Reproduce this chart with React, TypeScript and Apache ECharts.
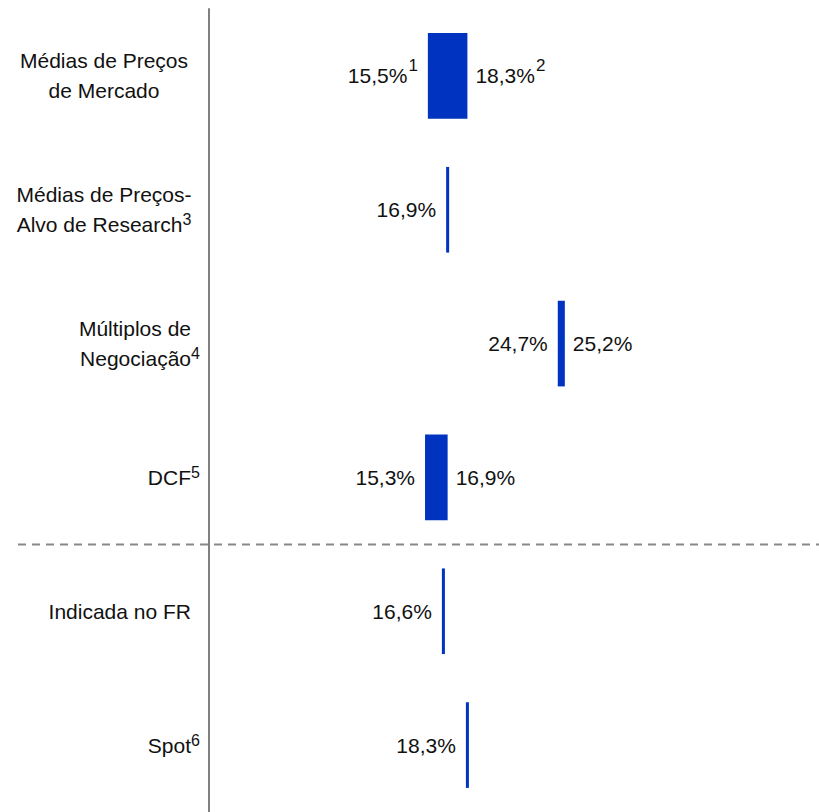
import React, { useEffect, useRef } from "react";
import * as echarts from "echarts";

// ---- data ----
const categories = [
  "Médias de Preços\nde Mercado",
  "Médias de Preços-\nAlvo de Research",
  "Múltiplos de\nNegociação",
  "DCF",
  "Indicada no FR",
  "Spot",
];
const categoryNotes = ["", "3", "4", "5", "", "6"];
const lowValues = [15.5, 16.9, 24.7, 15.3, 16.6, 18.3];
const highValues = [18.3, 16.9, 25.2, 16.9, 16.6, 18.3];
const lowNotes = ["1", "", "", "", "", ""];
const highNotes = ["2", "", "", "", "", ""];

// ---- style constants ----
const BLUE = "#0033C0";
const TEXT = "#111111";
const FONT = "'Liberation Sans', Arial, sans-serif";
const MAIN_SIZE = 21;
const SUP_SIZE = 16;
const VAL_SUP_SIZE = 17;
const CENTERED_ROWS = [0, 1];
const SEPARATOR_AFTER = 3;

let measureCtx: CanvasRenderingContext2D | null = null;
function textWidth(t: string, size: number): number {
  if (!measureCtx) {
    measureCtx = document.createElement("canvas").getContext("2d");
  }
  if (!measureCtx) return t.length * size * 0.55;
  measureCtx.font = `${size}px 'Liberation Sans', Arial, sans-serif`;
  return measureCtx.measureText(t).width;
}

const fmt = (v: number) => v.toFixed(1).replace(".", ",") + "%";

function txt(x: number, y: number, text: string, size: number, align: string) {
  return {
    type: "text",
    x,
    y,
    style: {
      text,
      fill: TEXT,
      fontSize: size,
      fontFamily: FONT,
      align,
      verticalAlign: "middle",
    },
  };
}

export default function App() {
  const ref = useRef<HTMLDivElement>(null);

  useEffect(() => {
    if (!ref.current) return;
    const chart = echarts.init(ref.current, undefined, { renderer: "svg" });

    const data = categories.map((_, i) => [i, lowValues[i], highValues[i]]);

    const renderItem = (params: any, api: any) => {
      const i = api.value(0);
      const low = api.value(1);
      const high = api.value(2);
      const pLow = api.coord([low, i]);
      const pHigh = api.coord([high, i]);
      const band = api.size([0, 1])[1];
      const h = band * 0.64;
      const cy = pLow[1];
      let x0 = pLow[0];
      let x1 = pHigh[0];
      let w = x1 - x0;
      if (w < 3) {
        const mid = (x0 + x1) / 2;
        x0 = mid - 1.5;
        x1 = mid + 1.5;
        w = 3;
      }
      const children: any[] = [];
      children.push({
        type: "rect",
        shape: { x: x0, y: cy - h / 2, width: w, height: h },
        style: { fill: BLUE },
      });

      // value labels
      if (lowNotes[i]) {
        const wsup = textWidth(lowNotes[i], VAL_SUP_SIZE);
        children.push(txt(x0 - 11 - wsup, cy, fmt(low), MAIN_SIZE, "right"));
        children.push(txt(x0 - 10, cy - 10.5, lowNotes[i], VAL_SUP_SIZE, "right"));
      } else {
        children.push(txt(x0 - 10, cy, fmt(low), MAIN_SIZE, "right"));
      }
      if (high !== low) {
        const hs = fmt(high);
        children.push(txt(x1 + 8, cy, hs, MAIN_SIZE, "left"));
        if (highNotes[i]) {
          const wm = textWidth(hs, MAIN_SIZE);
          children.push(
            txt(x1 + 8 + wm + 1, cy - 10.5, highNotes[i], VAL_SUP_SIZE, "left")
          );
        }
      }

      // category labels
      const lines = categories[i].split("\n");
      const n = lines.length;
      const lh = 30;
      lines.forEach((line, j) => {
        const ly = cy + (j - (n - 1) / 2) * lh;
        const isLast = j === n - 1;
        const note = isLast ? categoryNotes[i] : "";
        if (CENTERED_ROWS.indexOf(i) >= 0) {
          const wm = textWidth(line, MAIN_SIZE);
          const ws = note ? textWidth(note, SUP_SIZE) : 0;
          const left = 104 - (wm + ws) / 2;
          children.push(txt(left, ly, line, MAIN_SIZE, "left"));
          if (note) children.push(txt(left + wm, ly - 5, note, SUP_SIZE, "left"));
        } else {
          children.push(txt(191, ly, line, MAIN_SIZE, "right"));
          if (note) children.push(txt(191, ly - 5, note, SUP_SIZE, "left"));
        }
      });

      // dashed separator
      if (i === SEPARATOR_AFTER) {
        const sy = Math.round(cy + band / 2) + 0.5;
        children.push({
          type: "line",
          shape: { x1: 18, y1: sy, x2: api.getWidth(), y2: sy },
          style: { stroke: "#888888", lineWidth: 2, lineDash: [8, 6] },
        });
      }

      return { type: "group", children };
    };

    chart.setOption({
      animation: false,
      grid: { left: 209, right: 0, top: 9, bottom: -3 },
      xAxis: {
        type: "value",
        min: 0,
        max: 43.2,
        show: false,
      },
      yAxis: {
        type: "category",
        data: categories,
        inverse: true,
        offset: 4,
        axisLine: { show: true, lineStyle: { color: "#808080", width: 2 } },
        axisTick: { show: false },
        axisLabel: { show: false },
        splitLine: { show: false },
      },
      series: [
        {
          type: "custom",
          clip: false,
          renderItem,
          encode: { x: [1, 2], y: 0 },
          data,
        },
      ],
    });

    return () => {
      chart.dispose();
    };
  }, []);

  return (
    <div
      ref={ref}
      style={{ position: "fixed", left: 0, top: 0, width: 819, height: 812, background: "#fff" }}
    />
  );
}
